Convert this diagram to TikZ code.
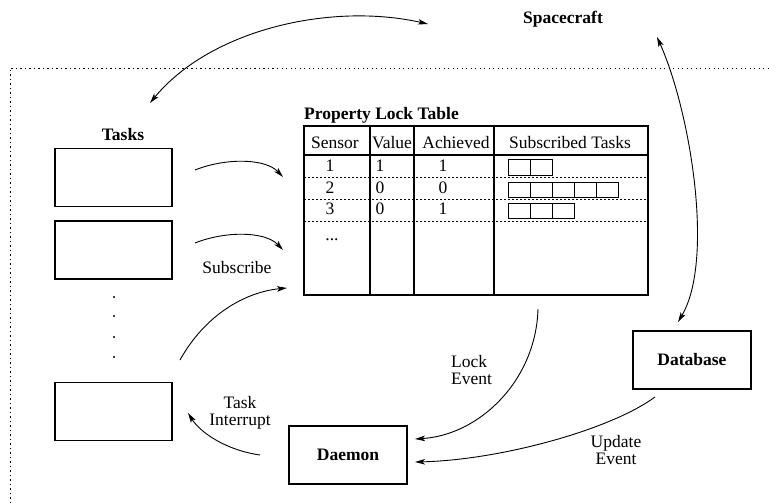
\documentclass[tikz,border=0pt]{standalone}
\usepackage{fontspec}
\setmainfont{Liberation Serif}
\usetikzlibrary{arrows.meta}
\begin{document}
\begin{tikzpicture}[x=1pt,y=-1pt,
  every node/.style={font=\fontsize{17.5}{17}\selectfont, inner sep=0pt},
  box/.style={draw, line width=1.1pt, minimum width=117pt, minimum height=58pt},
  tip/.tip={Stealth[length=10pt,width=5.5pt,inset=2.5pt]},
  conn/.style={line width=0.9pt, -tip},
  biconn/.style={line width=0.9pt, tip-tip},
  rowline/.style={line width=0.8pt, dash pattern=on 2pt off 2pt},
  frameline/.style={line width=0.9pt, dash pattern=on 1.2pt off 3.3pt},
  cell/.style={line width=1pt},
  ]
\useasboundingbox (0,0) rectangle (769,503);

% outer dotted frame
\draw[frameline] (10,503) -- (10,68) -- (769,68);

% Spacecraft
\node[font=\fontsize{17.5}{17}\selectfont\bfseries] (space) at (563,19) {Spacecraft};

% Tasks
\node[font=\fontsize{17.5}{17}\selectfont\bfseries] (tasks) at (123,135) {Tasks};
\node[box] (t1) at (113.5,177.5) {};
\node[box] (t2) at (113.5,250) {};
\node[box] (t3) at (113.5,411.5) {};
\foreach \yy [count=\k] in {297,316,337,357}
  \fill (114,\yy) circle (1.1pt) coordinate (dot\k);

% Property lock table
\node[font=\fontsize{17.5}{17}\selectfont\bfseries, anchor=west] (ttitle) at (304,115) {Property Lock Table};
\node[draw, line width=1.1pt, minimum width=344pt, minimum height=169pt] (tbl) at (476,210.5) {};
\draw[line width=1.1pt] (304,155) -- (648,155);
\foreach \xx in {370,414,494} \draw[line width=1.1pt] (\xx,126) -- (\xx,295);
\foreach \yy in {177,199,221} \draw[rowline] (304,\yy) -- (648,\yy);
\node (hS) at (335,143) {Sensor};
\node (hV) at (392,143) {Value};
\node (hA) at (456,143) {Achieved};
\node (hT) at (570,143) {Subscribed Tasks};
\node (r1a) at (330,166) {1};
\node (r1b) at (380,166) {1};
\node (r1c) at (443,166) {1};
\node (r2a) at (330,188) {2};
\node (r2b) at (380,188) {0};
\node (r2c) at (443,188) {0};
\node (r3a) at (330,209) {3};
\node (r3b) at (380,209) {0};
\node (r3c) at (443,209) {1};
\node (more) at (332,240) {...};
\foreach \i in {0,1} \draw[cell] (508+22*\i,159) rectangle ++(22,16);
\foreach \i in {0,...,4} \draw[cell] (508+22*\i,182) rectangle ++(22,15);
\foreach \i in {0,1,2} \draw[cell] (508+22*\i,203) rectangle ++(22,15);

% Database and Daemon
\node[box, minimum width=118pt] (db) at (692,360) {\bfseries Database};
\node[box, minimum width=118pt] (dm) at (348,455) {\bfseries Daemon};

% labels
\node (sub) at (237,268) {Subscribe};
\node[align=center] (ti) at (240,413) {Task\\Interrupt};
\node[align=left, anchor=west] (le) at (451,370) {Lock\\Event};
\node[align=center] (ue) at (616,450) {Update\\Event};

% coordinates for connector ends
\coordinate (a1) at (150,103);
\coordinate (a2) at (428,24);
\coordinate (b1) at (657,37);
\coordinate (b2) at (678,322);
\coordinate (s1a) at (195,170);
\coordinate (s1b) at (283,177);
\coordinate (s2a) at (195,243);
\coordinate (s2b) at (283,250);
\coordinate (s3a) at (180,360);
\coordinate (s3b) at (287,288);
\coordinate (la) at (538,309);
\coordinate (lb) at (415,439);
\coordinate (ua) at (655,397);
\coordinate (ub) at (415,462);
\coordinate (ia) at (260,455);
\coordinate (ib) at (188,413);

% connectors
\draw[biconn] (a1) .. controls (210,30) and (330,2) .. (a2);
\draw[biconn] (b1) .. controls (690,110) and (715,260) .. (b2);
\draw[conn] (s1a) .. controls (225,158) and (265,158) .. (s1b);
\draw[conn] (s2a) .. controls (225,231) and (265,231) .. (s2b);
\draw[conn] (s3a) .. controls (205,315) and (245,292) .. (s3b);
\draw[conn] (la) .. controls (536,380) and (480,435) .. (lb);
\draw[conn] (ua) .. controls (610,430) and (500,460) .. (ub);
\draw[conn] (ia) .. controls (225,450) and (200,432) .. (ib);
\end{tikzpicture}
\end{document}
